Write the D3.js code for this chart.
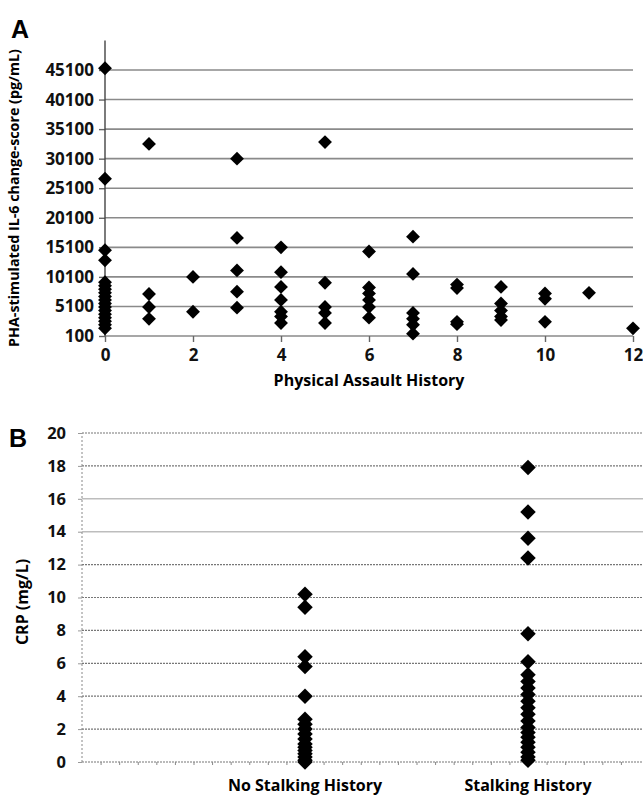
<!DOCTYPE html>
<html>
<head>
<meta charset="utf-8">
<script src="https://cdn.jsdelivr.net/npm/d3@7"></script>
<style>
  body { margin: 0; background: #fff; }
  svg { display: block; font-family: "Open Sans", sans-serif; }
</style>
</head>
<body>
<svg id="chart" width="643" height="797"></svg>
<script>
// Panel A: physical assault history vs IL-6 change score
const assaultCounts = [0, 1, 2, 3, 4, 5, 6, 7, 8, 9, 10, 11, 12];
const il6Values = [
  [45400, 26700, 14600, 12900, 9200, 8600, 8000, 7400, 6800, 6200, 5600, 5000, 4400, 3800, 3200, 2600, 2000, 1400],
  [32600, 7200, 5000, 3000],
  [10100, 4200],
  [30100, 16700, 11200, 7600, 4900],
  [15100, 10900, 8400, 6200, 4200, 3400, 2300],
  [32900, 9100, 5000, 4000, 2300],
  [14400, 8300, 7300, 6200, 5000, 3200],
  [16900, 10600, 4000, 3000, 2000, 500],
  [8800, 8200, 2500, 2100],
  [8400, 5600, 4400, 3400, 2800],
  [7300, 6400, 2500],
  [7400],
  [1400]
];
const il6Ticks = [100, 5100, 10100, 15100, 20100, 25100, 30100, 35100, 40100, 45100];
const assaultTicks = [0, 2, 4, 6, 8, 10, 12];

// Panel B: CRP by stalking history
const stalkGroups = ['No Stalking History', 'Stalking History'];
const crpNoStalking = [10.2, 9.4, 6.4, 5.8, 4.0, 2.6, 2.3, 2.0, 1.7, 1.4, 1.1, 0.9, 0.7, 0.5, 0.3, 0.1, 0.0];
const crpStalking = [17.9, 15.2, 13.6, 12.4, 7.8, 6.1, 5.3, 4.9, 4.5, 4.1, 3.7, 3.3, 2.9, 2.5, 2.1, 1.8, 1.5, 1.2, 0.9, 0.6, 0.3, 0.1];
const crpTicks = [0, 2, 4, 6, 8, 10, 12, 14, 16, 18, 20];

const svg = d3.select('svg#chart');
const diamond = d3.symbol().type(d3.symbolSquare);

// ---------- Panel A ----------
const xA = d3.scaleLinear().domain([0, 12]).range([105, 633]);
const yA = d3.scaleLinear().domain([100, 45100]).range([336, 70]);

svg.append('text')
  .attr('x', 11).attr('y', 38)
  .attr('font-family', 'Liberation Sans, Arial, sans-serif')
  .attr('font-weight', 'bold').attr('font-size', 25)
  .text('A');

svg.append('g')
  .selectAll('line')
  .data(il6Ticks)
  .enter()
  .append('line')
  .attr('x1', xA(0)).attr('x2', xA(12))
  .attr('y1', (d) => yA(d)).attr('y2', (d) => yA(d))
  .attr('stroke', '#8a8a8a')
  .attr('stroke-width', 1.6);

const yAxisA = svg.append('g')
  .attr('transform', `translate(${xA(0)},0)`)
  .call(d3.axisLeft(yA).tickValues(il6Ticks).tickFormat(d3.format('d')).tickSize(6).tickPadding(5));
yAxisA.select('.domain').remove();
yAxisA.selectAll('.tick line').attr('stroke', '#666').attr('stroke-width', 1.4);
yAxisA.selectAll('.tick text')
  .attr('font-family', 'Open Sans, sans-serif')
  .attr('font-weight', 'bold').attr('font-size', 17).attr('fill', '#111');

svg.append('line')
  .attr('x1', xA(0)).attr('x2', xA(0))
  .attr('y1', yA(100)).attr('y2', yA(50100))
  .attr('stroke', '#444').attr('stroke-width', 1.4);

const xAxisA = svg.append('g')
  .attr('transform', `translate(0,${yA(100)})`)
  .call(d3.axisBottom(xA).tickValues(assaultTicks).tickSize(6).tickPadding(7));
xAxisA.select('.domain').remove();
xAxisA.selectAll('.tick line').attr('stroke', '#666').attr('stroke-width', 1.4);
xAxisA.selectAll('.tick text')
  .attr('font-family', 'Open Sans, sans-serif')
  .attr('font-weight', 'bold').attr('font-size', 17).attr('fill', '#111');

svg.append('text')
  .attr('x', xA(6)).attr('y', 386)
  .attr('text-anchor', 'middle')
  .attr('font-weight', 'bold').attr('font-size', 16)
  .text('Physical Assault History');

svg.append('text')
  .attr('transform', 'translate(19,198) rotate(-90)')
  .attr('text-anchor', 'middle')
  .attr('font-weight', 'bold').attr('font-size', 14.3)
  .text('PHA-stimulated IL-6 change-score (pg/mL)');

const pointsA = [];
il6Values.forEach((vals, i) => vals.forEach((v) => pointsA.push({ x: assaultCounts[i], y: v })));

svg.append('g')
  .selectAll('path')
  .data(pointsA)
  .enter()
  .append('path')
  .attr('d', diamond.size(96)())
  .attr('transform', (d) => `translate(${xA(d.x)},${yA(d.y)}) rotate(45)`)
  .attr('fill', '#000');

// ---------- Panel B ----------
const xB = d3.scaleLinear().domain([0, 3]).range([82, 751]);
const yB = d3.scaleLinear().domain([0, 20]).range([762, 433]);
const lightLines = [14, 16];

svg.append('text')
  .attr('x', 9).attr('y', 447)
  .attr('font-family', 'Liberation Sans, Arial, sans-serif')
  .attr('font-weight', 'bold').attr('font-size', 25)
  .text('B');

svg.append('g')
  .selectAll('line')
  .data(crpTicks)
  .enter()
  .append('line')
  .attr('x1', xB(0)).attr('x2', 643)
  .attr('y1', (d) => yB(d)).attr('y2', (d) => yB(d))
  .attr('stroke', (d) => (lightLines.includes(d) ? '#bdbdbd' : '#777'))
  .attr('stroke-width', (d) => (lightLines.includes(d) ? 1.4 : 1.2))
  .attr('stroke-dasharray', (d) => (lightLines.includes(d) ? null : '2,1'));

svg.append('line')
  .attr('x1', xB(0)).attr('x2', xB(0))
  .attr('y1', yB(0)).attr('y2', yB(20))
  .attr('stroke', '#888').attr('stroke-width', 1)
  .attr('stroke-dasharray', '2,2');

const yAxisB = svg.append('g')
  .attr('transform', `translate(${xB(0)},0)`)
  .call(d3.axisLeft(yB).tickValues(crpTicks).tickSize(4).tickPadding(12));
yAxisB.select('.domain').remove();
yAxisB.selectAll('.tick line').attr('stroke', '#999');
yAxisB.selectAll('.tick text')
  .attr('font-family', 'Open Sans, sans-serif')
  .attr('font-weight', 'bold').attr('font-size', 16.5).attr('fill', '#111');

const minorTicks = d3.range(1, 30).map((i) => i / 12);
const xAxisB = svg.append('g')
  .attr('transform', `translate(0,${yB(0)})`)
  .call(d3.axisBottom(xB).tickValues(minorTicks).tickSize(3).tickFormat(''));
xAxisB.select('.domain').remove();
xAxisB.selectAll('.tick line').attr('stroke', '#888');

svg.append('g')
  .selectAll('text')
  .data(stalkGroups)
  .enter()
  .append('text')
  .attr('x', (d, i) => xB(i + 1))
  .attr('y', 791)
  .attr('text-anchor', 'middle')
  .attr('font-weight', 'bold').attr('font-size', 16)
  .text((d) => d);

svg.append('text')
  .attr('transform', 'translate(28,602) rotate(-90)')
  .attr('text-anchor', 'middle')
  .attr('font-weight', 'bold').attr('font-size', 16)
  .text('CRP (mg/L)');

const pointsB = crpNoStalking.map((v) => ({ x: 1, y: v }))
  .concat(crpStalking.map((v) => ({ x: 2, y: v })));

svg.append('g')
  .selectAll('path')
  .data(pointsB)
  .enter()
  .append('path')
  .attr('d', diamond.size(120)())
  .attr('transform', (d) => `translate(${xB(d.x)},${yB(d.y)}) rotate(45)`)
  .attr('fill', '#000');
</script>
</body>
</html>
